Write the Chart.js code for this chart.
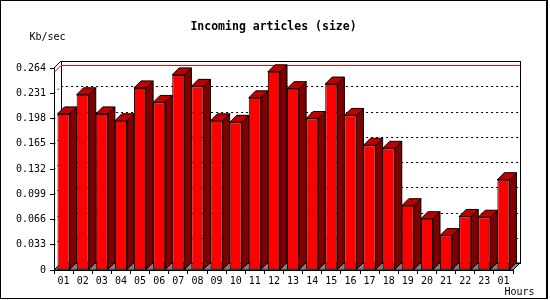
<!DOCTYPE html>
<html>
<head>
<meta charset="utf-8">
<script src="https://cdn.jsdelivr.net/npm/chart.js@4/dist/chart.umd.min.js"></script>
<style>
  html, body { margin: 0; padding: 0; background: #fff; }
  canvas { display: block; }
</style>
</head>
<body>
<canvas id="chart" width="550" height="300"></canvas>
<script>
var hours = ['01', '02', '03', '04', '05', '06', '07', '08', '09', '10', '11', '12',
             '13', '14', '15', '16', '17', '18', '19', '20', '21', '22', '23', '01'];
var kb_per_sec = [0.204, 0.229, 0.204, 0.195, 0.238, 0.219, 0.255, 0.240, 0.195, 0.193, 0.225, 0.259,
                  0.237, 0.198, 0.243, 0.202, 0.163, 0.159, 0.084, 0.067, 0.045, 0.070, 0.069, 0.118];
var y_ticks = [0, 0.033, 0.066, 0.099, 0.132, 0.165, 0.198, 0.231, 0.264];

var chart_title = 'Incoming articles (size)';
var y_unit = 'Kb/sec';
var x_unit = 'Hours';

var MONO = '"DejaVu Sans Mono", "Liberation Mono", monospace';
var DEPTH = 7;

function line(ctx, pts) {
    ctx.beginPath();
    ctx.moveTo(pts[0][0], pts[0][1]);
    for (var i = 1; i < pts.length; i++) ctx.lineTo(pts[i][0], pts[i][1]);
}

// back wall, floor, side wall and the dotted grid behind the bars
var wall_plugin = {
    id: 'wall3d',
    beforeDatasetsDraw: function (chart) {
        var ctx = chart.ctx;
        var a = chart.chartArea;
        var ys = chart.scales.y;
        var L = a.left, R = a.right, T = a.top, B = a.bottom, D = DEPTH;
        ctx.save();
        ctx.lineWidth = 1;

        // floor
        line(ctx, [[L, B], [R, B], [R + D, B - D], [L + D, B - D]]);
        ctx.closePath();
        ctx.fillStyle = '#808080';
        ctx.fill();
        ctx.strokeStyle = '#000';
        ctx.stroke();

        // back wall
        ctx.strokeRect(L + D + 0.5, T - D + 0.5, R - L, B - T);
        line(ctx, [[L, T], [L + D, T - D]]);
        ctx.stroke();
        line(ctx, [[L, B], [L + D, B - D]]);
        ctx.stroke();

        // dotted grid on the back wall and side wall
        ctx.setLineDash([2, 3]);
        for (var i = 1; i < y_ticks.length - 1; i++) {
            var py = Math.round(ys.getPixelForValue(y_ticks[i])) + 0.5;
            line(ctx, [[L, py], [L + D, py - D], [R + D, py - D]]);
            ctx.stroke();
        }
        ctx.setLineDash([]);

        // max line
        var top = Math.max.apply(null, kb_per_sec);
        var my = Math.round(ys.getPixelForValue(top)) + 0.5;
        ctx.strokeStyle = '#ff0000';
        line(ctx, [[L, my], [L + D, my - D], [R + D, my - D]]);
        ctx.stroke();
        ctx.restore();
    },
    afterDatasetsDraw: function (chart) {
        var ctx = chart.ctx;
        var meta = chart.getDatasetMeta(0);
        var D = DEPTH;
        ctx.save();
        ctx.lineWidth = 1;
        ctx.strokeStyle = '#000';
        meta.data.forEach(function (bar) {
            var p = bar.getProps(['x', 'y', 'base', 'width'], true);
            var l = p.x - p.width / 2, r = p.x + p.width / 2;
            // side
            line(ctx, [[r, p.y], [r + D, p.y - D], [r + D, p.base - D], [r, p.base]]);
            ctx.closePath();
            ctx.fillStyle = '#800000';
            ctx.fill();
            ctx.stroke();
            // top
            line(ctx, [[l, p.y], [l + D, p.y - D], [r + D, p.y - D], [r, p.y]]);
            ctx.closePath();
            ctx.fillStyle = '#c00000';
            ctx.fill();
            ctx.stroke();
        });
        ctx.restore();
    },
    afterDraw: function (chart) {
        var ctx = chart.ctx;
        ctx.save();
        ctx.fillStyle = '#000';
        ctx.textBaseline = 'middle';
        ctx.textAlign = 'center';
        ctx.font = 'bold 11.5px ' + MONO;
        ctx.fillText(chart_title, 273.5, 27);
        ctx.textAlign = 'left';
        ctx.font = '10px ' + MONO;
        ctx.fillText(y_unit, 29.5, 37.5);
        ctx.fillText(x_unit, 504.5, 292);
        // frame
        ctx.fillRect(0, 0, 548, 1);
        ctx.fillRect(0, 0, 1, 299);
        ctx.fillRect(546, 0, 2, 299);
        ctx.fillRect(0, 298, 548, 1);
        ctx.restore();
    }
};

var ctx = document.getElementById('chart').getContext('2d');
var bg_plugin = {
    id: 'bg',
    beforeDraw: function (chart) {
        chart.ctx.save();
        chart.ctx.fillStyle = '#fff';
        chart.ctx.fillRect(0, 0, chart.width, chart.height);
        chart.ctx.restore();
    }
};

var myChart = new Chart(ctx, {
    type: 'bar',
    data: {
        labels: hours,
        datasets: [{
            data: kb_per_sec,
            backgroundColor: '#ff0000',
            borderColor: '#000',
            borderWidth: 1,
            borderSkipped: false,
            barPercentage: 0.635,
            categoryPercentage: 1.0
        }]
    },
    options: {
        responsive: false,
        animation: false,
        events: [],
        layout: { padding: { top: 68, right: 37, left: 0, bottom: 0 } },
        plugins: {
            legend: { display: false },
            tooltip: { enabled: false },
            title: { display: false }
        },
        scales: {
            x: {
                grid: { display: true, drawOnChartArea: false, tickLength: 4, color: '#000', offset: true },
                border: { display: true, color: '#000' },
                ticks: { color: '#000', font: { family: MONO, size: 10 }, padding: 1, maxRotation: 0, autoSkip: false },
                afterFit: function (s) { s.height = 30; }
            },
            y: {
                min: 0,
                max: 0.264,
                afterBuildTicks: function (s) {
                    s.ticks = y_ticks.map(function (v) { return { value: v }; });
                },
                grid: { display: true, drawOnChartArea: false, tickLength: 4, color: '#000' },
                border: { display: true, color: '#000' },
                ticks: {
                    color: '#000',
                    font: { family: MONO, size: 10 },
                    padding: 4,
                    callback: function (v) { return v === 0 ? '0' : v.toFixed(3); }
                },
                afterFit: function (s) { s.width = 54; }
            }
        }
    },
    plugins: [bg_plugin, wall_plugin]
});
</script>
</body>
</html>
